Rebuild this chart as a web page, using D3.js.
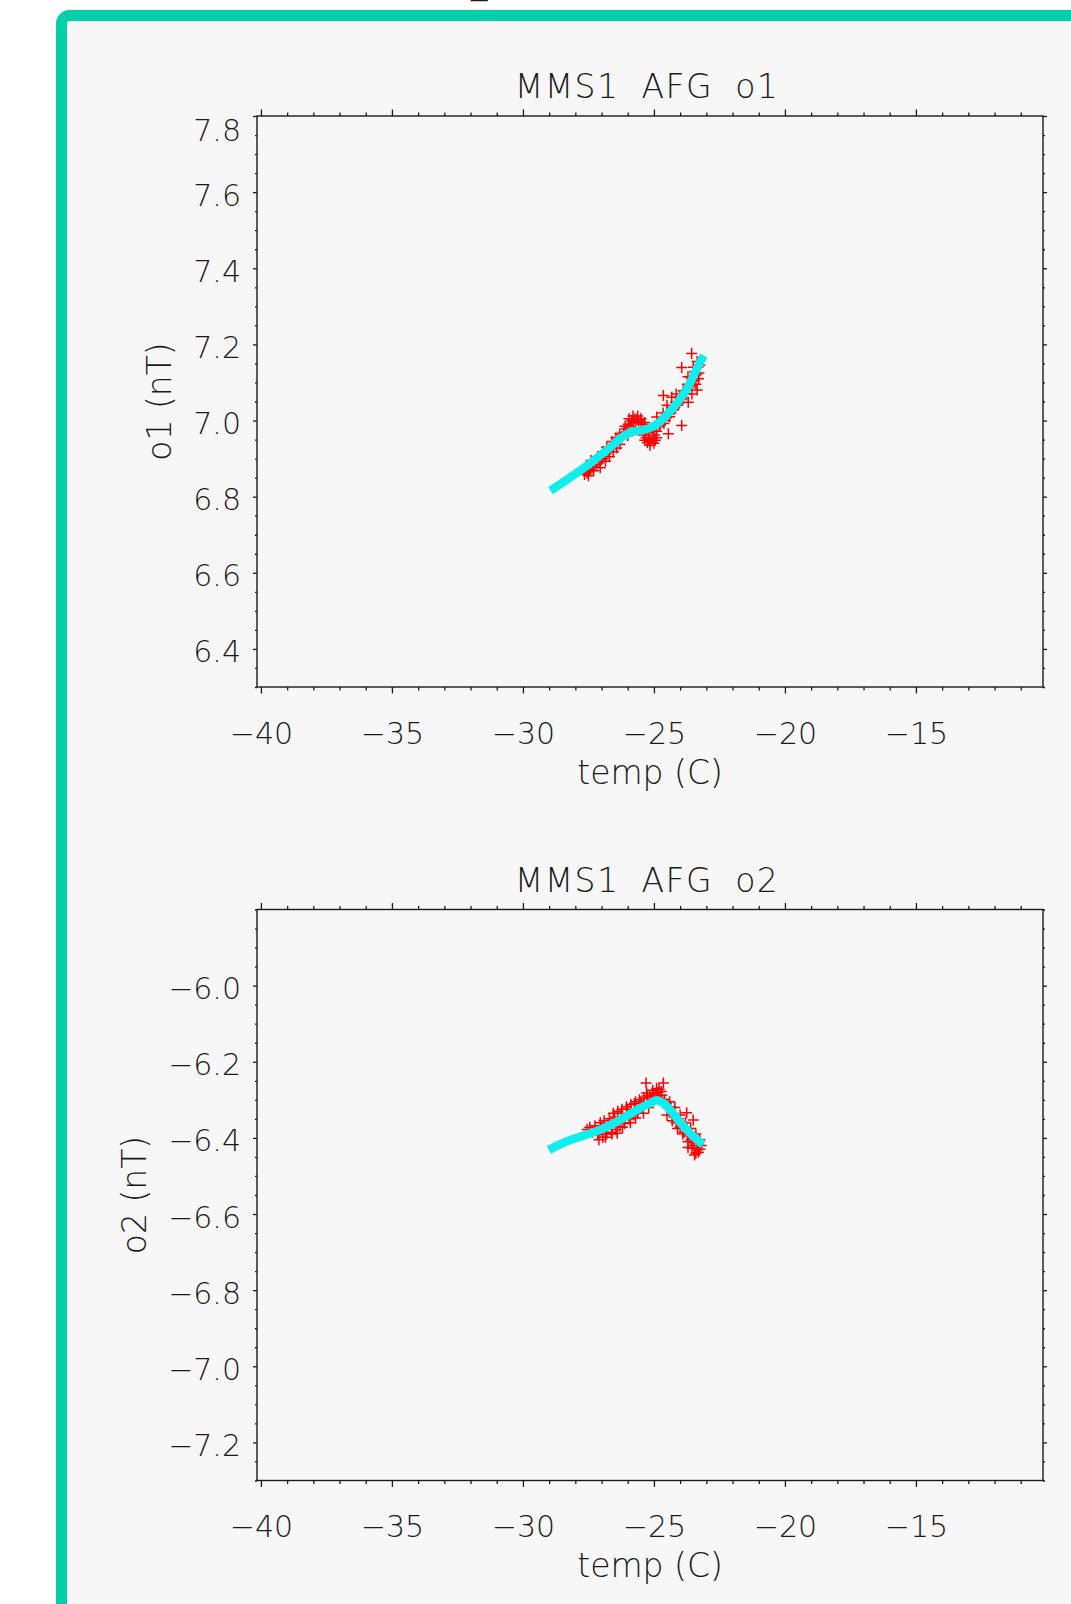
<!DOCTYPE html>
<html lang="en">
<head>
<meta charset="UTF-8">
<title>MMS1 AFG offsets vs temperature</title>
<script src="https://d3js.org/d3.v7.min.js"></script>
<style>
  body { margin: 0; background: #fff; }
  svg text { font-family: "DejaVu Sans", sans-serif; font-weight: 200; fill: #1a1a1a; }
  .axis line { stroke: #1a1a1a; stroke-width: 1.3; }
  .axis path { display: none; }
  .box { fill: none; stroke: #1a1a1a; stroke-width: 1.4; }
  .pts path { stroke: #ff0000; stroke-width: 1.5; fill: none; }
  .fit { fill: none; stroke: #0eeeee; stroke-width: 8.5; stroke-linejoin: round; }
</style>
</head>
<body>
<svg width="1071" height="1604"></svg>
<script>
// x axis (shared)
const xMajor = [-40, -35, -30, -25, -20, -15];
const xLabel = "temp (C)";

// panel 1 : o1
const o1Ticks = [6.4, 6.6, 6.8, 7.0, 7.2, 7.4, 7.6, 7.8];
const o1Points = [
  [-27.55, 6.862], [-27.45, 6.872], [-27.35, 6.880], [-27.30, 6.868], [-27.20, 6.885],
  [-27.10, 6.892], [-27.05, 6.876], [-26.95, 6.900], [-26.90, 6.915], [-26.85, 6.893],
  [-26.75, 6.920], [-26.70, 6.905], [-26.62, 6.930], [-26.55, 6.918], [-26.50, 6.942],
  [-26.42, 6.928], [-26.35, 6.950], [-26.30, 6.938], [-26.22, 6.958], [-26.15, 6.968],
  [-26.05, 6.978], [-25.98, 6.990], [-25.90, 6.985], [-25.85, 7.000], [-25.78, 6.995],
  [-25.72, 7.005], [-25.65, 7.002], [-25.58, 7.000], [-25.50, 6.995], [-25.42, 6.990],
  [-25.35, 6.982], [-25.28, 6.975], [-25.20, 6.968], [-26.00, 6.960], [-25.70, 6.975],
  [-25.40, 6.962], [-25.30, 6.955], [-25.20, 6.950], [-25.12, 6.945], [-25.05, 6.955],
  [-24.98, 6.962], [-24.90, 6.972], [-24.95, 6.948], [-24.80, 6.985], [-24.70, 7.002],
  [-24.62, 6.992], [-24.55, 7.012], [-24.48, 7.022], [-24.40, 7.010], [-24.33, 7.035],
  [-24.25, 7.028], [-24.18, 7.048], [-24.10, 7.040], [-24.02, 7.062], [-23.95, 7.055],
  [-23.88, 7.078], [-23.80, 7.070], [-23.72, 7.095], [-23.65, 7.088], [-23.58, 7.112],
  [-23.50, 7.105], [-23.45, 7.128], [-23.38, 7.120], [-23.32, 7.140], [-23.28, 7.125],
  [-23.40, 7.095], [-23.35, 7.080], [-23.55, 7.070],
  [-27.60, 6.875], [-27.40, 6.895], [-27.15, 6.905], [-27.00, 6.898], [-26.95, 6.918],
  [-26.80, 6.930], [-26.65, 6.925], [-26.60, 6.945], [-26.45, 6.955], [-26.40, 6.945],
  [-26.30, 6.965], [-27.65, 6.858], [-27.50, 6.855],
  [-25.95, 7.005], [-25.80, 7.012], [-25.62, 7.012], [-25.50, 7.005], [-26.10, 6.985],
  [-25.35, 6.995], [-25.25, 6.942], [-25.00, 6.940], [-25.15, 6.935], [-24.90, 6.955],
  [-25.35, 6.948],
  [-24.75, 6.990], [-24.58, 7.000], [-24.35, 7.020], [-24.20, 7.035], [-24.05, 7.045],
  [-23.90, 7.060], [-23.75, 7.080], [-23.60, 7.095], [-23.45, 7.105], [-23.30, 7.110],
  [-23.25, 7.145], [-23.35, 7.155], [-23.50, 7.140], [-23.70, 7.115], [-24.15, 7.070],
  [-24.50, 7.040], [-24.65, 7.020],
  [-23.56, 7.176], [-23.94, 7.139], [-24.64, 7.066], [-24.32, 7.061], [-23.94, 6.987],
  [-24.45, 6.965], [-23.69, 7.048], [-24.89, 7.009], [-27.44, 6.868]
];
const o1Fit = [
  [-28.95, 6.816], [-28.21, 6.850], [-27.45, 6.887], [-26.68, 6.929], [-26.18, 6.958],
  [-25.84, 6.971], [-25.42, 6.975], [-25.04, 6.984], [-24.77, 6.997], [-24.39, 7.024],
  [-24.01, 7.055], [-23.63, 7.097], [-23.36, 7.137], [-23.10, 7.171]
];

// panel 2 : o2
const o2Ticks = [-7.2, -7.0, -6.8, -6.6, -6.4, -6.2, -6.0];
const o2Points = [
  [-27.55, -6.378], [-27.45, -6.372], [-27.35, -6.385], [-27.25, -6.368], [-27.15, -6.392],
  [-27.05, -6.360], [-26.95, -6.398], [-26.90, -6.355], [-26.80, -6.390], [-26.70, -6.350],
  [-26.62, -6.385], [-26.55, -6.335], [-26.45, -6.378], [-26.38, -6.330], [-26.30, -6.370],
  [-26.22, -6.325], [-26.12, -6.362], [-26.05, -6.318], [-25.95, -6.350], [-25.88, -6.312],
  [-25.78, -6.340], [-25.70, -6.305], [-25.62, -6.335], [-25.55, -6.300], [-25.45, -6.322],
  [-25.38, -6.295], [-25.30, -6.256], [-25.28, -6.282], [-25.22, -6.310], [-25.15, -6.290],
  [-25.08, -6.300], [-25.00, -6.285], [-24.92, -6.292], [-24.85, -6.280], [-24.78, -6.295],
  [-24.70, -6.288], [-24.64, -6.256], [-24.60, -6.300], [-24.52, -6.310], [-24.45, -6.322],
  [-24.38, -6.318], [-24.30, -6.340], [-24.22, -6.345], [-24.15, -6.360], [-24.08, -6.350],
  [-24.00, -6.372], [-23.92, -6.365], [-23.85, -6.385], [-23.75, -6.334], [-23.72, -6.395],
  [-23.65, -6.390], [-23.58, -6.405], [-23.50, -6.353], [-23.48, -6.412], [-23.42, -6.400],
  [-23.35, -6.425], [-23.30, -6.415], [-23.25, -6.430], [-23.55, -6.427], [-23.70, -6.425],
  [-23.40, -6.440], [-23.20, -6.420],
  [-27.00, -6.372], [-26.75, -6.362], [-26.50, -6.345], [-26.25, -6.335], [-26.00, -6.325],
  [-25.75, -6.310], [-25.50, -6.305], [-25.25, -6.290], [-25.05, -6.275], [-24.90, -6.270],
  [-24.80, -6.272], [-24.72, -6.278],
  [-27.10, -6.405], [-26.85, -6.398], [-26.60, -6.390], [-26.40, -6.388], [-26.20, -6.372],
  [-25.90, -6.360], [-25.70, -6.348], [-25.40, -6.335], [-25.20, -6.320], [-24.50, -6.340],
  [-24.30, -6.355], [-24.10, -6.375], [-23.90, -6.390], [-23.70, -6.410], [-23.50, -6.420],
  [-23.30, -6.438], [-23.45, -6.445],
  [-24.40, -6.305], [-24.20, -6.320], [-24.00, -6.340], [-23.80, -6.360], [-23.60, -6.375],
  [-23.40, -6.390], [-23.25, -6.405]
];
const o2Fit = [
  [-29.01, -6.432], [-28.59, -6.417], [-27.82, -6.397], [-27.06, -6.379], [-26.30, -6.353],
  [-25.53, -6.322], [-25.15, -6.309], [-24.89, -6.301], [-24.66, -6.308], [-24.31, -6.332],
  [-24.01, -6.358], [-23.63, -6.387], [-23.13, -6.418]
];

const panels = [
  { title: "MMS1 AFG o1", ytitle: "o1 (nT)", yDomain: [6.3, 7.8], yTicks: o1Ticks, pts: o1Points, fit: o1Fit, top: 116 },
  { title: "MMS1 AFG o2", ytitle: "o2 (nT)", yDomain: [-7.3, -5.8], yTicks: o2Ticks, pts: o2Points, fit: o2Fit, top: 909.5 }
];

const left = 257, right = 1043, plotH = 571;
const svg = d3.select("svg");

// window frame
svg.append("rect")
  .attr("x", 61.5).attr("y", 15.5)
  .attr("width", 1100).attr("height", 1700)
  .attr("rx", 8)
  .attr("fill", "#f7f7f7")
  .attr("stroke", "#03cfa9")
  .attr("stroke-width", 11);

// leftover of the window caption above (cut off in the original too)
svg.append("text").attr("x", 471).attr("y", -7.5)
  .style("font-size", "33px").text("_");

const x = d3.scaleLinear().domain([-40.15, -10.15]).range([0, right - left]);
const xMinor = d3.range(-40, -10, 1).filter(v => !xMajor.includes(v));

panels.forEach(p => {
  const g = svg.append("g").attr("transform", `translate(${left},${p.top})`);
  const y = d3.scaleLinear().domain(p.yDomain).range([plotH, 0]);
  const yMinor = d3.range(Math.round(p.yDomain[0] * 20), Math.round(p.yDomain[1] * 20) + 1)
    .map(v => v / 20)
    .filter(v => !p.yTicks.some(t => Math.abs(t - v) < 1e-6));

  // x axes (bottom labelled, top mirrored)
  const xb = g.append("g").attr("class", "axis").attr("transform", `translate(0,${plotH})`)
    .call(d3.axisBottom(x).tickValues(xMajor).tickSize(6.5).tickFormat(d3.format("d")));
  xb.selectAll("text").attr("y", 56.5).attr("dy", 0).style("font-size", "30px");
  g.append("g").attr("class", "axis").attr("transform", `translate(0,${plotH})`)
    .call(d3.axisBottom(x).tickValues(xMinor).tickSize(3.5).tickFormat(""));
  g.append("g").attr("class", "axis")
    .call(d3.axisTop(x).tickValues(xMajor).tickSize(6.5).tickFormat(""));
  g.append("g").attr("class", "axis")
    .call(d3.axisTop(x).tickValues(xMinor).tickSize(3.5).tickFormat(""));

  // y axes (left labelled, right mirrored)
  const yl = g.append("g").attr("class", "axis")
    .call(d3.axisLeft(y).tickValues(p.yTicks).tickSize(4).tickFormat(d3.format(".1f")));
  yl.selectAll("text")
    .attr("x", -16).attr("dy", 0)
    .attr("y", d => Math.abs(d - p.yDomain[1]) < 1e-6 ? 24 : 13)
    .style("font-size", "30px");
  g.append("g").attr("class", "axis")
    .call(d3.axisLeft(y).tickValues(yMinor).tickSize(2).tickFormat(""));
  g.append("g").attr("class", "axis").attr("transform", `translate(${right - left},0)`)
    .call(d3.axisRight(y).tickValues(p.yTicks).tickSize(4).tickFormat(""));
  g.append("g").attr("class", "axis").attr("transform", `translate(${right - left},0)`)
    .call(d3.axisRight(y).tickValues(yMinor).tickSize(2).tickFormat(""));

  g.append("rect").attr("class", "box")
    .attr("width", right - left).attr("height", plotH);

  // titles
  g.append("text")
    .attr("x", (right - left) / 2 - 3).attr("y", -18)
    .attr("text-anchor", "middle")
    .style("font-size", "33px")
    .style("letter-spacing", "1.5px")
    .style("word-spacing", "10px")
    .text(p.title);

  g.append("text")
    .attr("x", (right - left) / 2).attr("y", plotH + 96.5)
    .attr("text-anchor", "middle")
    .style("font-size", "33px")
    .text(xLabel);

  const lb = yl.node().getBBox();
  const tx = lb.x - 22;
  g.append("text")
    .attr("transform", `translate(${tx},${plotH / 2}) rotate(-90)`)
    .attr("text-anchor", "middle")
    .style("font-size", "33px")
    .text(p.ytitle);

  // measured points
  g.append("g").attr("class", "pts")
    .selectAll("path")
    .data(p.pts)
    .join("path")
    .attr("transform", d => `translate(${x(d[0])},${y(d[1])})`)
    .attr("d", "M-5.5,0H5.5M0,-5.5V5.5");

  // fit line
  const line = d3.line()
    .x(d => x(d[0]))
    .y(d => y(d[1]))
    .curve(d3.curveMonotoneX);
  g.append("path").datum(p.fit).attr("class", "fit").attr("d", line);
});
</script>
</body>
</html>
